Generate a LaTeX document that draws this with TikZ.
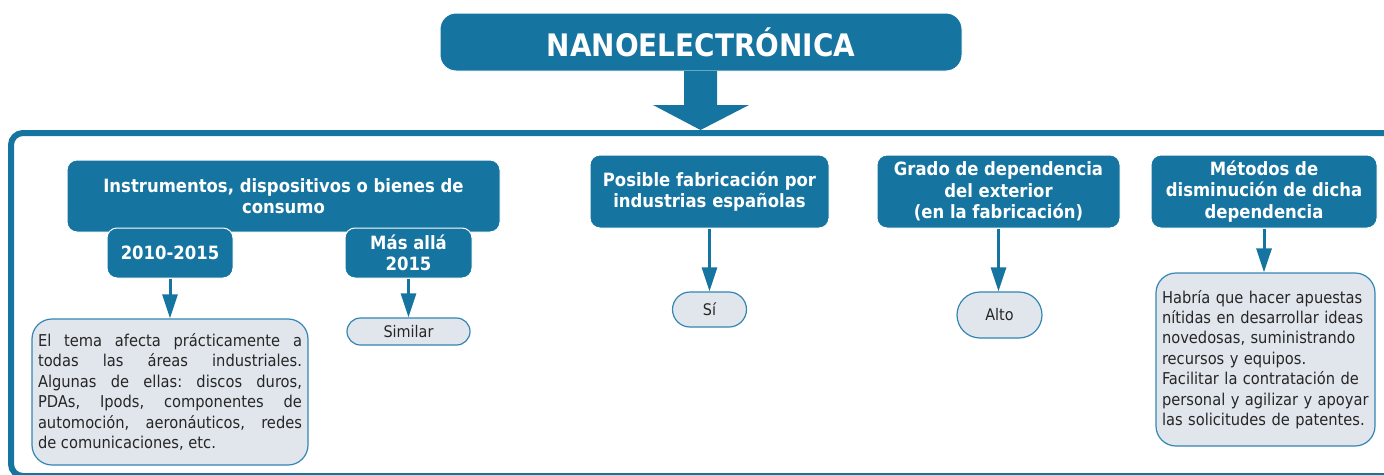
\documentclass[tikz,border=0pt]{standalone}
\usepackage{fontspec}
\setmainfont{DejaVu Sans Condensed}
\usepackage{tikz}
\usetikzlibrary{arrows.meta}
\definecolor{nanoblue}{HTML}{1674A0}
\definecolor{notefill}{HTML}{E1E6ED}
\definecolor{noteline}{HTML}{3386B3}
\frenchspacing

\begin{document}
\begin{tikzpicture}[x=1pt,y=-1pt,
	head/.style={fill=nanoblue, draw=white, line width=1pt, rounded corners=10pt, text=white, align=center, inner sep=0pt, font=\bfseries\fontsize{18.3}{21.5}\selectfont},
	note/.style={fill=notefill, draw=noteline, line width=1.2pt, rounded corners=20pt, text=black!85, inner xsep=6pt, inner ysep=0pt, font=\fontsize{16.3}{20.4}\selectfont},
	pill/.style={note, align=center, inner sep=0pt, font=\fontsize{16}{20}\selectfont},
	arr/.style={nanoblue, line width=3pt, -{Triangle[width=15pt,length=24pt]}}]
		\useasboundingbox (0,0) rectangle (1384,474);
		\draw[line width=6pt, nanoblue, rounded corners=12pt] (1430,133) -- (11,133) -- (11,476) -- (1430,476);
		\node[head, minimum width=522pt, minimum height=58pt, rounded corners=16pt, font=\bfseries\fontsize{31}{36}\selectfont] (nano) at (701,42) {NANOELECTRÓNICA};
		\fill[nanoblue] (684,71) -- (717,71) -- (717,105) -- (749,105) -- (700.5,130) -- (653,105) -- (684,105) -- cycle;
		\node[head, minimum width=433pt, minimum height=72pt] (instr) at (283.5,196) {Instrumentos, dispositivos o bienes de\\consumo};
		\node[head, minimum width=126pt, minimum height=50pt] (early) at (170,253) {2010-2015};
		\node[head, minimum width=127pt, minimum height=50pt] (later) at (408.5,253) {Más allá\\2015};
		\node[note, text width=264pt, align=justify, minimum height=146pt] (tema) at (170,392) {El tema afecta prácticamente a\linebreak todas las áreas industriales.\linebreak Algunas de ellas: discos duros,\linebreak PDAs, Ipods, componentes de\linebreak automoción, aeronáuticos, redes\linebreak de comunicaciones, etc.};
		\node[pill, minimum width=123pt, minimum height=27pt, rounded corners=13.5pt] (similar) at (408.5,331.5) {Similar};
		\node[head, minimum width=239pt, minimum height=73pt] (posible) at (709.5,191.5) {Posible fabricación por\\industrias españolas};
		\node[pill, minimum width=74pt, minimum height=35pt, rounded corners=17.5pt] (si) at (709.5,309.5) {Sí};
		\node[head, minimum width=243pt, minimum height=73pt] (grado) at (998.5,191.5) {Grado de dependencia\\del exterior\\(en la fabricación)};
		\node[pill, minimum width=85pt, minimum height=46pt, rounded corners=23pt] (alto) at (999.5,315) {Alto};
		\node[head, minimum width=226pt, minimum height=73pt] (metodos) at (1264,191.5) {Métodos de\\disminución de dicha\\dependencia};
		\node[note, text width=207pt, align=left, minimum height=173pt] (habria) at (1265.5,359.5) {Habría que hacer apuestas\\nítidas en desarrollar ideas\\novedosas, suministrando\\recursos y equipos.\\Facilitar la contratación de\\personal y agilizar y apoyar\\las solicitudes de patentes.};
		\draw[arr] (early) -- (tema);
		\draw[arr] (later) -- (similar);
		\draw[arr] (posible) -- (si);
		\draw[arr] (grado.south) -- (grado.south |- alto.north);
		\draw[arr] (metodos.south) -- (metodos.south |- habria.north);
	% nanoelectronica map
	\end{tikzpicture}
\end{document}
